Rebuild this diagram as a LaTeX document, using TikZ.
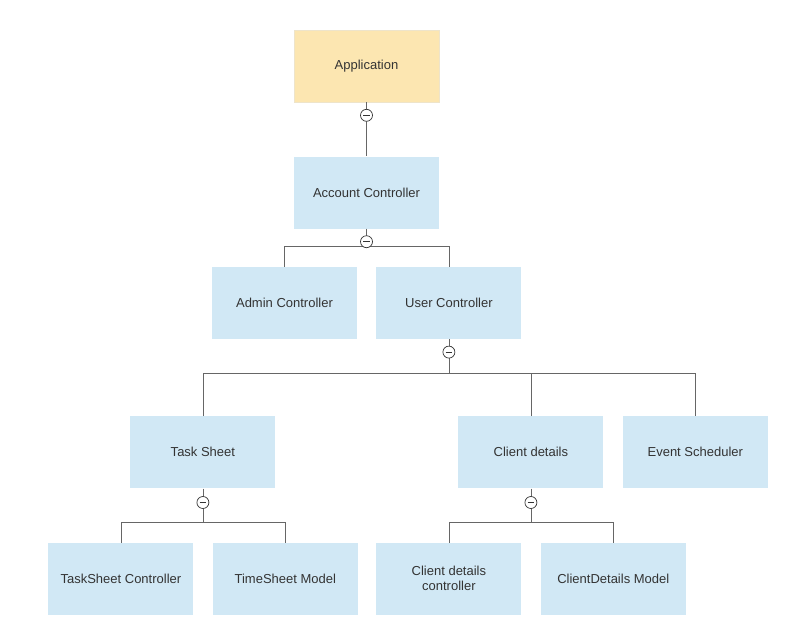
\documentclass[tikz,border=0pt]{standalone}
\usepackage{fontspec}
\setmainfont{Liberation Sans}
\usetikzlibrary{positioning}

\definecolor{boxblue}{HTML}{D1E8F5}
\definecolor{boxyellow}{HTML}{FCE6B1}
\definecolor{textgray}{HTML}{333333}
\definecolor{linegray}{HTML}{666666}

\tikzset{
  box/.style={rectangle, fill=boxblue, minimum width=145pt, minimum height=72pt,
    inner sep=2pt, align=center, text=textgray, font=\fontsize{13}{15}\selectfont},
  rootbox/.style={box, fill=boxyellow, draw=boxyellow!80!gray!60, line width=0.6pt},
  link/.style={draw=linegray, line width=0.8pt},
  fold/.style={circle, draw=textgray, fill=white, line width=0.7pt, minimum size=12pt, inner sep=0pt,
    path picture={\draw[textgray, line width=0.7pt] ([xshift=-3.2pt]path picture bounding box.center) -- ([xshift=3.2pt]path picture bounding box.center);}}
}

\begin{document}
\begin{tikzpicture}
\useasboundingbox (0,0) rectangle (810pt,-635pt);

\node[rootbox] (app) at (366.5pt,-66pt) {Application};
\node[box, below=54pt of app] (acc) {Account Controller};
\node[box, below=38pt of acc, xshift=-82pt] (admin) {Admin Controller};
\node[box, right=19pt of admin] (user) {User Controller};
\node[box, below=77pt of user, xshift=-246pt] (task) {Task Sheet};
\node[box, below=77pt of user, xshift=82pt] (client) {Client details};
\node[box, right=19pt of client] (event) {Event Scheduler};
\node[box, below=54pt of task, xshift=-82pt] (tsctrl) {TaskSheet Controller};
\node[box, right=19pt of tsctrl] (tsmodel) {TimeSheet Model};
\node[box, below=54pt of client, xshift=-82pt] (cdctrl) {Client details\\controller};
\node[box, right=19pt of cdctrl] (cdmodel) {ClientDetails Model};

% bus points under each parent
\coordinate (accbus) at ([yshift=-18pt]acc.south);
\coordinate (userbus) at ([yshift=-34pt]user.south);
\coordinate (taskbus) at ([yshift=-34pt]task.south);
\coordinate (clientbus) at ([yshift=-34pt]client.south);

\draw[link] (app.south) -- (acc.north);
\draw[link] (acc.south) -- (accbus);
\draw[link] (admin.north) |- (accbus) -| (user.north);
\draw[link] (user.south) -- (userbus);
\draw[link] (task.north) |- (userbus) -| (event.north);
\draw[link] (client.north) -- (client.north |- userbus);
\draw[link] (task.south) -- (taskbus);
\draw[link] (tsctrl.north) |- (taskbus) -| (tsmodel.north);
\draw[link] (client.south) -- (clientbus);
\draw[link] (cdctrl.north) |- (clientbus) -| (cdmodel.north);

\node[fold] (f1) at ([yshift=-13pt]app.south) {};
\node[fold] (f2) at ([yshift=-13pt]acc.south) {};
\node[fold] (f3) at ([yshift=-13pt]user.south) {};
\node[fold] (f4) at ([yshift=-14pt]task.south) {};
\node[fold] (f5) at ([yshift=-14pt]client.south) {};
\end{tikzpicture}
\end{document}
